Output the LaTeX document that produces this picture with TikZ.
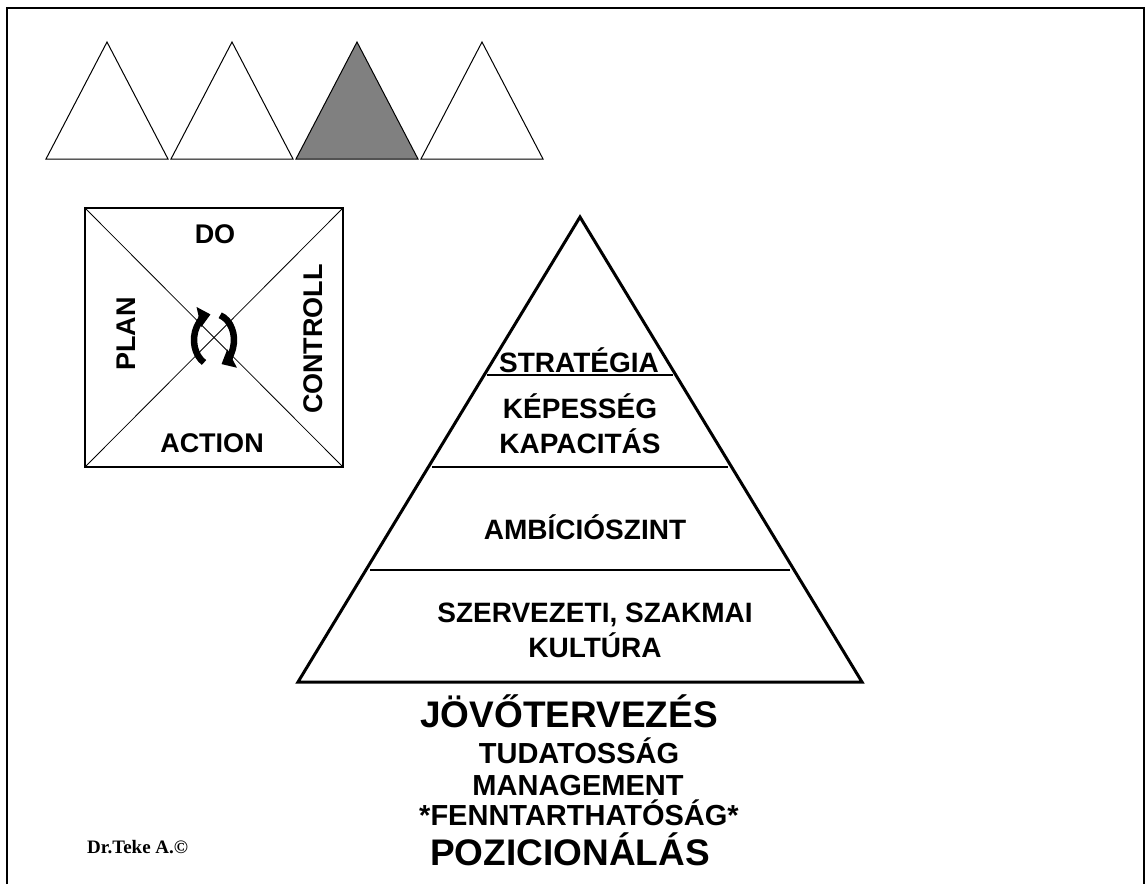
\documentclass[tikz,border=0pt]{standalone}
\usepackage{fontspec}
\setmainfont{Liberation Sans}
\newfontfamily\timesfont{Liberation Serif}
\usetikzlibrary{arrows.meta}

\tikzset{
  sqtext/.style={inner sep=0pt, anchor=base, font=\bfseries\fontsize{27}{32}\selectfont},
  pytext/.style={inner sep=0pt, anchor=base, align=center, font=\bfseries\fontsize{28}{35}\selectfont},
  bigtext/.style={inner sep=0pt, anchor=base, font=\bfseries\fontsize{37}{44}\selectfont},
  midtext/.style={inner sep=0pt, anchor=base, font=\bfseries\fontsize{29}{34}\selectfont},
  smalltri/.style={draw=black, line width=1pt, line join=miter},
  cyclearrow/.style={line width=6.5pt, -{Triangle[length=12pt,width=20pt]}}
}

\begin{document}
\begin{tikzpicture}[x=1pt,y=1pt,yscale=-1]
\useasboundingbox (0,0) rectangle (1148,884);
% frame
\draw [line width=2pt] (7,884) -- (7,8) -- (1144,8) -- (1144,884);
% small triangles
\foreach \i/\col in {0/white,1/white,2/gray,3/white}
  \filldraw [smalltri, fill=\col] (46+125*\i,159) -- (107+125*\i,42) -- (168+125*\i,159) -- cycle;
% PDCA square
\coordinate (sqNW) at (85,208);
\coordinate (sqNE) at (343,208);
\coordinate (sqSE) at (343,467);
\coordinate (sqSW) at (85,467);
\draw [line width=1.2pt] (sqNW) rectangle (sqSE);
\draw [line width=0.8pt] (sqNW) -- (sqSE);
\draw [line width=0.8pt] (sqNE) -- (sqSW);
\node [sqtext] (do) at (215,243) {DO};
\node [sqtext] (action) at (212,452) {ACTION};
\node [sqtext, rotate=90] (plan) at (135,334) {PLAN};
\node [sqtext, rotate=90] (controll) at (322,339) {CONTROLL};
% cycle arrows
\coordinate (cyc) at (214,340);
\draw [cyclearrow] ([shift={(-240:20 and 26)}]cyc) arc [start angle=-240, end angle=-100, x radius=20, y radius=26];
\draw [cyclearrow] ([shift={(-72:20 and 26)}]cyc) arc [start angle=-72, end angle=68, x radius=20, y radius=26];
% pyramid
\coordinate (apex) at (580,217);
\coordinate (baseL) at (298,682);
\coordinate (baseR) at (862,682);
\draw [line width=1.2pt] (487,375) -- (673,375);
\draw [line width=1.2pt] (432,467) -- (728,467);
\draw [line width=1.2pt] (370,570) -- (790,570);
\draw [line width=3pt, line join=miter] (apex) -- (baseR) -- (baseL) -- cycle;
\node [pytext] (strat) at (579,372) {STRATÉGIA};
\node [pytext] (kepes) at (580,418) {KÉPESSÉG};
\node [pytext] (kapac) at (580,453) {KAPACITÁS};
\node [pytext] (ambic) at (585,539) {AMBÍCIÓSZINT};
\node [pytext] (szerv) at (595,622) {SZERVEZETI, SZAKMAI};
\node [pytext] (kult) at (595,657) {KULTÚRA};
% texts below
\node [bigtext] (jovo) at (569,727) {JÖVŐTERVEZÉS};
\node [midtext] (tudat) at (579,763) {TUDATOSSÁG};
\node [midtext] (manag) at (578,795) {MANAGEMENT};
\node [midtext] (fennt) at (579,825) {*FENNTARTHATÓSÁG*};
\node [bigtext] (pozic) at (570,865) {POZICIONÁLÁS};
\node [inner sep=0pt, anchor=base west, font=\timesfont\bfseries\fontsize{19}{22}\selectfont] (author) at (87,853) {Dr.Teke A.©};
\end{tikzpicture}
\end{document}
